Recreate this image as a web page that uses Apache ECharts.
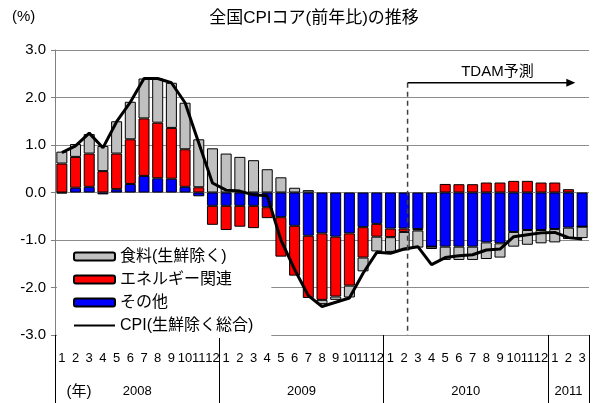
<!DOCTYPE html>
<html>
<head>
<meta charset="utf-8">
<script src="https://cdn.jsdelivr.net/npm/echarts@6/dist/echarts.min.js"></script>
<style>
html, body { margin: 0; padding: 0; background: #fff; }
#main { width: 594px; height: 403px; }
</style>
</head>
<body>
<div id="main"></div>
<script>
// 月ラベル（2008/1〜2011/3）
var months = ['1','2','3','4','5','6','7','8','9','10','11','12',
	'1','2','3','4','5','6','7','8','9','10','11','12',
	'1','2','3','4','5','6','7','8','9','10','11','12',
	'1','2','3'];
var years = ['2008', '2009', '2010', '2011'];
var yearCenters = [6, 18, 30, 37.5];
var yearBounds = [0, 12, 24, 36, 39];

// 寄与度（%ポイント）
var food = [0.25, 0.27, 0.41, 0.53, 0.68, 0.79, 0.84, 0.93, 0.95, 0.98, 1.01, 0.93,
	0.82, 0.75, 0.68, 0.49, 0.32, 0.10, 0.05, -0.09, -0.07, -0.25, -0.29, -0.31,
	-0.31, -0.39, -0.36, -0.05, -0.28, -0.28, -0.28, -0.35, -0.30, -0.31, -0.31, -0.28,
	-0.28, -0.24, -0.24];
var energy = [0.61, 0.65, 0.70, 0.45, 0.75, 0.94, 1.21, 1.17, 1.07, 0.79, 0.11, -0.40,
	-0.51, -0.44, -0.47, -0.23, -0.83, -1.05, -1.31, -1.40, -1.26, -1.10, -0.64, -0.27,
	-0.18, -0.07, -0.03, 0, 0.18, 0.175, 0.175, 0.21, 0.21, 0.245, 0.245, 0.21,
	0.21, 0.07, 0];
var other = [-0.02, 0.10, 0.12, -0.04, 0.07, 0.18, 0.35, 0.30, 0.29, 0.12, -0.08, -0.28,
	-0.28, -0.28, -0.28, -0.31, -0.52, -0.70, -0.91, -0.86, -0.93, -0.86, -0.73, -0.66,
	-0.76, -0.76, -0.77, -1.14, -1.14, -1.14, -1.14, -1.05, -1.07, -0.83, -0.79, -0.79,
	-0.77, -0.74, -0.72];
var cpi = [0.84, 0.98, 1.25, 0.94, 1.49, 1.90, 2.40, 2.40, 2.31, 1.89, 1.04, 0.20,
	0.05, 0.03, -0.05, -0.07, -1.00, -1.62, -2.17, -2.40, -2.31, -2.22, -1.70, -1.26,
	-1.28, -1.19, -1.14, -1.52, -1.37, -1.33, -1.31, -1.21, -1.19, -0.93, -0.89, -0.85,
	-0.84, -0.95, -0.98];

// 予測期間の注記（x は 0〜39 の月位置）
var forecastStart = 25.75, forecastEnd = 38.0, forecastY = 2.31;

var FONT = "'Liberation Sans', 'Noto Sans CJK JP', sans-serif";
var names = ['食料(生鮮除く)', 'エネルギー関連', 'その他', 'CPI(生鮮除く総合)'];

var myChart = echarts.init(document.getElementById('main'));

var barStyle = function(color) {
	return { color: color, borderColor: '#000', borderWidth: 1 };
};

var option = {
	animation: false,
	textStyle: { fontFamily: FONT },
	grid: { left: 55, right: 5, top: 50, bottom: 68 },
	legend: {
		data: [names[0], names[1], names[2], {
			name: names[3],
			itemStyle: { color: 'rgba(0,0,0,0)', borderWidth: 0, opacity: 0 }
		}],
		orient: 'vertical',
		left: 57,
		top: 244,
		padding: [4, 18, 4, 16],
		backgroundColor: '#fff',
		itemWidth: 41,
		itemHeight: 8,
		itemGap: 6,
		textStyle: { fontSize: 16, lineHeight: 17, color: '#000', fontFamily: FONT }
	},
	xAxis: [{
		type: 'category',
		data: months,
		axisLine: { show: false },
		axisTick: { show: false },
		axisLabel: { interval: 0, fontSize: 13, color: '#000', margin: 17, fontFamily: FONT }
	}, {
		type: 'value',
		position: 'bottom',
		min: 0,
		max: 39,
		axisLine: { show: false },
		splitLine: { show: false },
		axisTick: {
			show: true,
			customValues: yearBounds,
			length: 68,
			lineStyle: { color: '#000', width: 1 }
		},
		axisLabel: {
			customValues: yearCenters,
			margin: 50,
			fontSize: 13,
			color: '#000',
			fontFamily: FONT,
			formatter: function(v) {
				var k = yearCenters.indexOf(v);
				return k >= 0 ? years[k] : '';
			}
		}
	}],
	yAxis: {
		type: 'value',
		min: -3,
		max: 3,
		interval: 1,
		axisLine: { show: true, lineStyle: { color: '#808080' } },
		axisTick: { show: true, length: 4, lineStyle: { color: '#808080' } },
		splitLine: { lineStyle: { color: '#8c8c8c', width: 1 } },
		axisLabel: {
			fontSize: 15,
			color: '#000',
			margin: 9,
			fontFamily: FONT,
			formatter: function(v) { return v.toFixed(1); }
		}
	},
	series: [{
		name: names[2], type: 'bar', stack: 'c', data: other,
		barWidth: 11, itemStyle: barStyle('#0000ff')
	}, {
		name: names[1], type: 'bar', stack: 'c', data: energy,
		barWidth: 11, itemStyle: barStyle('#ff0000')
	}, {
		name: names[0], type: 'bar', stack: 'c', data: food,
		barWidth: 11, itemStyle: barStyle('#c0c0c0')
	}, {
		name: names[3], type: 'line', data: cpi,
		symbol: 'none', z: 5,
		lineStyle: { color: '#000', width: 3 },
		itemStyle: { color: '#000' }
	}]
};

myChart.setOption(option);

// 注記（タイトル・単位・予測期間）
var px = function(v) { return myChart.convertToPixel({ xAxisIndex: 1 }, v); };
var py = function(v) { return myChart.convertToPixel({ yAxisIndex: 0 }, v); };
var x0 = px(forecastStart), x1 = px(forecastEnd), ya = py(forecastY), yb = py(-3);

myChart.setOption({
	graphic: [{
		type: 'text', left: 12, top: 9,
		style: { text: '(%)', font: '15px ' + FONT, fill: '#000' }
	}, {
		type: 'text', x: 314, y: 18,
		style: { text: '全国CPIコア(前年比)の推移', font: '17px ' + FONT, fill: '#000', align: 'center', verticalAlign: 'middle' }
	}, {
		type: 'text', x: 79, y: 392,
		style: { text: '(年)', font: '15px ' + FONT, fill: '#000', align: 'center', verticalAlign: 'middle' }
	}, {
		type: 'line', z: 10,
		shape: { x1: x0, y1: ya, x2: x0, y2: yb },
		style: { stroke: '#404040', lineWidth: 1.5, lineDash: [5, 4] }
	}, {
		type: 'line', z: 10,
		shape: { x1: x0, y1: ya, x2: x1 - 6, y2: ya },
		style: { stroke: '#000', lineWidth: 1.5 }
	}, {
		type: 'polygon', z: 10,
		shape: { points: [[x1, ya], [x1 - 9, ya - 4], [x1 - 9, ya + 4]] },
		style: { fill: '#000' }
	}, {
		type: 'text', z: 10, x: (x0 + x1) / 2 + 6, y: ya - 11,
		style: { text: 'TDAM予測', font: '15px ' + FONT, fill: '#000', align: 'center', verticalAlign: 'middle' }
	}]
});
</script>
</body>
</html>
